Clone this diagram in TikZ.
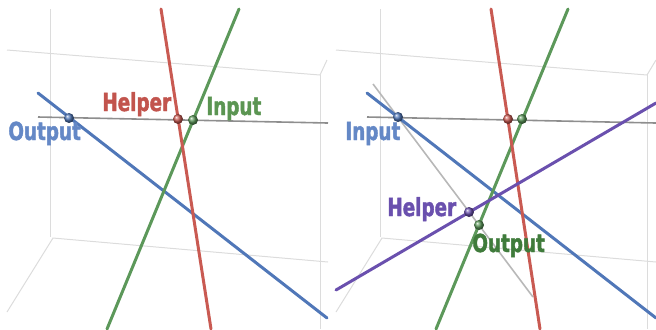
\documentclass[tikz,border=0pt]{standalone}
\usepackage{fontspec}
\newfontfamily\lblfont{DejaVu Sans}[UprightFont=* Bold, FakeStretch=0.74, FakeBold=1.6]
\usetikzlibrary{shapes.geometric}
\definecolor{boxgray}{HTML}{DCDCDC}
\definecolor{axisgray}{HTML}{8E8E8E}
\definecolor{guidegray}{HTML}{B8B8B8}
\definecolor{rodblue}{HTML}{5077B8}
\definecolor{rodred}{HTML}{C95A52}
\definecolor{rodgreen}{HTML}{5C985A}
\definecolor{rodpurple}{HTML}{6A50AE}
\definecolor{tagblue}{HTML}{6488C6}
\definecolor{tagred}{HTML}{C2544D}
\definecolor{taggreen}{HTML}{5B9552}
\definecolor{tagdkgreen}{HTML}{3F7B3B}
\tikzstyle{rod} = [line width=1.5pt, line cap=round]
\tikzstyle{boxline} = [draw=boxgray, line width=0.5pt]

\begin{document}
\begin{tikzpicture}[x=0.5pt, y=-0.5pt,
    ball/.style={circle, inner sep=0pt, minimum size=5pt, shading=ball, ball color=#1},
    tag/.style={font=\lblfont\fontsize{12.4}{12.4}\selectfont, text=#1, inner sep=0pt, anchor=base west}]
    \useasboundingbox (0,0) rectangle (656,329);

    % left panel: box
    \draw[boxline] (50,9) -- (50,237);
    \draw[boxline] (7,50) -- (320,75) -- (327,60);
    \draw[boxline] (320,75) -- (320,329);
    \draw[boxline] (7,312) -- (53,238) -- (328,262);

    % left panel: rods
    \coordinate (axL1) at (38,117);
    \coordinate (axL2) at (328,123);
    \coordinate (blL1) at (38,93);
    \coordinate (blL2) at (327,318);
    \coordinate (rdL1) at (161,9);
    \coordinate (rdL2) at (211,329);
    \coordinate (grL1) at (239,9);
    \coordinate (grL2) at (107,329);
    \draw[draw=axisgray, line width=0.8pt] (axL1) -- (axL2);
    \draw[rod, rodblue] (blL1) -- (blL2);
    \draw[rod, rodgreen] (grL1) -- (grL2);
    \draw[rod, rodred] (rdL1) -- (rdL2);

    \node[ball=rodblue] (outL) at (69,118) {};
    \node[ball=rodred] (helpL) at (178,119) {};
    \node[ball=rodgreen] (inL) at (193,120) {};

    \node[tag=tagblue] (outLtag) at (8,140) {Output};
    \node[tag=tagred] (helpLtag) at (102,111) {Helper};
    \node[tag=taggreen] (inLtag) at (206,115) {Input};

    % right panel: box
    \draw[boxline] (380,9) -- (380,237);
    \draw[boxline] (336,50) -- (647,75) -- (656,60);
    \draw[boxline] (647,75) -- (647,329);
    \draw[boxline] (336,312) -- (382,238) -- (656,262);

    % right panel: rods
    \coordinate (axR1) at (367,117);
    \coordinate (axR2) at (656,123);
    \coordinate (guR1) at (373,84);
    \coordinate (guR2) at (533,297);
    \coordinate (blR1) at (367,93);
    \coordinate (blR2) at (656,318);
    \coordinate (rdR1) at (491,9);
    \coordinate (rdR2) at (540,329);
    \coordinate (grR1) at (568,9);
    \coordinate (grR2) at (436,329);
    \coordinate (puR1) at (336,290);
    \coordinate (puR2) at (656,103);
    \draw[draw=axisgray, line width=0.8pt] (axR1) -- (axR2);
    \draw[draw=guidegray, line width=0.8pt] (guR1) -- (guR2);
    \draw[rod, rodblue] (blR1) -- (blR2);
    \draw[rod, rodgreen] (grR1) -- (grR2);
    \draw[rod, rodred] (rdR1) -- (rdR2);
    \draw[rod, rodpurple] (puR1) -- (puR2);

    \node[ball=rodblue] (inR) at (398,117) {};
    \node[ball=rodred] (fixR) at (508,119) {};
    \node[ball=rodgreen] (midR) at (522,119) {};
    \node[ball=rodpurple] (helpR) at (469,212) {};
    \node[ball=rodgreen] (outR) at (479,225) {};

    \node[tag=tagblue] (inRtag) at (345,140) {Input};
    \node[tag=rodpurple] (helpRtag) at (387,216) {Helper};
    \node[tag=tagdkgreen] (outRtag) at (472,252) {Output};
\end{tikzpicture}
\end{document}
